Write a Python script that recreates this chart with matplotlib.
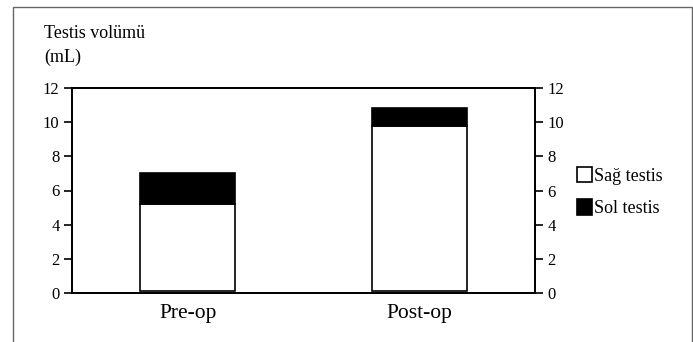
import matplotlib
matplotlib.use("Agg")
import matplotlib.pyplot as plt
from matplotlib.patches import Rectangle

plt.rcParams['font.family'] = ['Liberation Serif', 'DejaVu Serif']

# Veriler
groups = ["Pre-op", "Post-op"]
sag = [5.1, 9.7]      # Sağ testis
sol = [1.85, 1.05]    # Sol testis
base = 0.1
yticks = [0, 2, 4, 6, 8, 10, 12]

fig = plt.figure(figsize=(6.93, 3.42), dpi=100)
fig.patches.append(Rectangle((13/693, -0.1), 679/693, 1.1 - 6.5/342,
                             transform=fig.transFigure, fill=False,
                             edgecolor='#666666', linewidth=1.0))

ax = fig.add_axes([72/693, 49/342, 463/693, 205/342])
x = range(len(groups))
b1 = ax.bar(x, sag, bottom=base, width=0.41, color='white',
            edgecolor='black', linewidth=1.2, label="Sağ testis")
b2 = ax.bar(x, sol, bottom=[base + s for s in sag], width=0.41,
            color='black', edgecolor='black', linewidth=1.2, label="Sol testis")

ax.set_xlim(-0.5, 1.5)
ax.set_ylim(0, 12)
ax.set_yticks(yticks)
ax.set_xticks(list(x))
ax.set_xticklabels(groups, fontsize=15.5)
ax.tick_params(axis='x', length=0, pad=8)
ax.tick_params(axis='y', length=6, width=1.2, labelsize=12, pad=3)
for s in ax.spines.values():
    s.set_linewidth(1.3)

ax2 = ax.twinx()
ax2.set_ylim(0, 12)
ax2.set_yticks(yticks)
ax2.tick_params(axis='y', length=6, width=1.2, labelsize=12, pad=3)
for s in ax2.spines.values():
    s.set_linewidth(1.3)

fig.text(44/693, 1 - 38/342, "Testis volümü", fontsize=13, va='baseline')
fig.text(44/693, 1 - 62/342, "(mL)", fontsize=13, va='baseline')

fig.legend(handles=[b1, b2], loc='center left',
           bbox_to_anchor=(577/693, 1 - 192/342), frameon=False,
           fontsize=13, handlelength=0.85, handleheight=0.95,
           handletextpad=0.1, labelspacing=0.8, borderaxespad=0,
           borderpad=0)

fig.savefig("out.png", dpi=100)
